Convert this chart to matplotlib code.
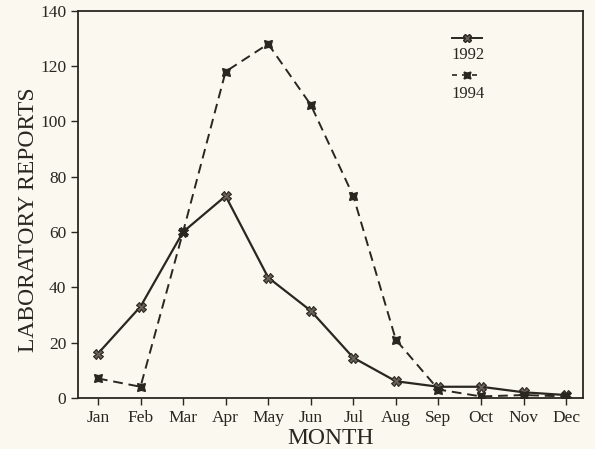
import matplotlib
matplotlib.use('Agg')
import matplotlib.pyplot as plt

months = ['Jan', 'Feb', 'Mar', 'Apr', 'May', 'Jun', 'Jul', 'Aug', 'Sep', 'Oct', 'Nov', 'Dec']
reports_1992 = [16, 33, 60, 73, 43.5, 31.5, 14.5, 6, 4, 4, 2, 1]
reports_1994 = [7, 4, 60, 118, 128, 106, 73, 21, 3, 0.5, 1, 0.5]

plt.rcParams['font.family'] = ['Liberation Serif', 'DejaVu Serif']
bg = '#fbf8ef'
ink = '#2a2620'

fig = plt.figure(figsize=(5.95, 4.49), dpi=100, facecolor=bg)
ax = fig.add_axes([0.131, 0.114, 0.849, 0.862])
ax.set_facecolor(bg)

x = range(len(months))
ax.plot(x, reports_1992, '-', color=ink, lw=1.6, marker='X', ms=6.5, mec=ink, mfc='#6a6258', mew=0.8)
ax.plot(x, reports_1994, '--', color=ink, lw=1.4, dashes=(5, 3), marker=(4, 1, 45), ms=8, mec=ink, mfc=ink)

# legend drawn as in the original: sample line above each label
ax.plot([0.74, 0.77, 0.8], [0.93, 0.93, 0.93], '-', color=ink, lw=1.4, marker='X', ms=6, mfc='#6a6258',
        mec=ink, markevery=[1], transform=ax.transAxes)
ax.text(0.74, 0.885, '1992', fontsize=12, color=ink, transform=ax.transAxes, va='center')
ax.plot([0.74, 0.77, 0.8], [0.835, 0.835, 0.835], '--', color=ink, lw=1.2, dashes=(3, 3), marker=(4, 1, 45),
        ms=7, mfc=ink, mec=ink, markevery=[1], transform=ax.transAxes)
ax.text(0.74, 0.785, '1994', fontsize=12, color=ink, transform=ax.transAxes, va='center')

ax.set_xlim(-0.47, 11.4)
ax.set_ylim(0, 140)
ax.set_xticks(list(x))
ax.set_xticklabels(months)
ax.set_yticks(range(0, 141, 20))
ax.tick_params(colors=ink, labelsize=12.5, length=5, width=1)
for s in ax.spines.values():
    s.set_color(ink)
    s.set_linewidth(1.3)

ax.set_xlabel('MONTH', fontsize=17, color=ink, labelpad=2)
ax.set_ylabel('LABORATORY REPORTS', fontsize=17, color=ink)
ax.yaxis.set_label_coords(-0.078, 0.46)

fig.savefig('out.png', dpi=100, facecolor=bg)
